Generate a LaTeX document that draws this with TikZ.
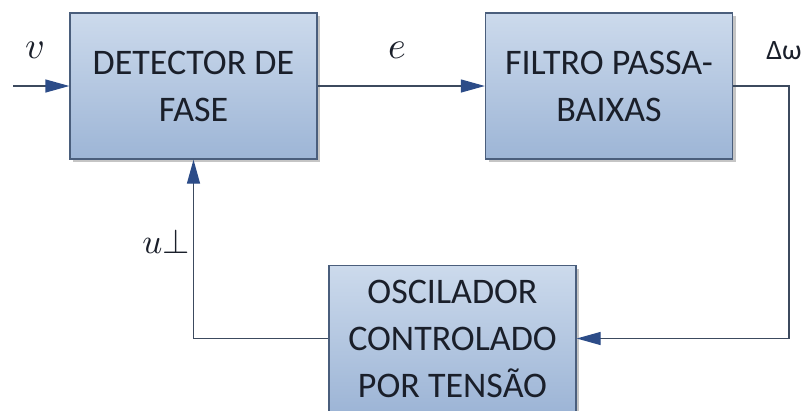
\documentclass[tikz,border=0pt]{standalone}
\usepackage{fontspec}
\setmainfont{Carlito}
\usetikzlibrary{arrows.meta,shadows}
\definecolor{boxtop}{HTML}{CCDAEC}
\definecolor{boxbot}{HTML}{9DB5D6}
\definecolor{boxline}{HTML}{4A5E7C}
\definecolor{wirec}{HTML}{3C4A5E}
\definecolor{tipc}{HTML}{2C4C88}
\definecolor{textc}{HTML}{1A1F2A}
\begin{document}
\begin{tikzpicture}[x=1pt,y=-1pt,
  blk/.style={draw=boxline, line width=1.3pt, top color=boxtop, bottom color=boxbot,
    minimum width=247pt, minimum height=146pt, inner sep=0pt, align=center,
    font=\fontsize{36}{47}\selectfont, text=textc,
    drop shadow={shadow xshift=3pt, shadow yshift=-3pt, fill=black!45, opacity=0.5}},
  wire/.style={draw=wirec, line width=1.3pt},
  arr/.style={wire, -{Triangle[length=24pt,width=13pt,fill=tipc,color=tipc]}},
  lbl/.style={inner sep=0pt, text=textc}]
\useasboundingbox (0,0) rectangle (805,410);
\node[blk] (det) at (193.5,86) {DETECTOR DE\\FASE};
\node[blk] (fil) at (609,86) {FILTRO PASSA-\\BAIXAS};
\node[blk] (vco) at (452.5,338.5) {OSCILADOR\\CONTROLADO\\POR TENSÃO};
\coordinate (vin) at (13,86);
\coordinate (cr) at (789,0);
\draw[arr] (vin) -- (det.west);
\draw[arr] (det.east) -- (fil.west);
\draw[arr] (fil.east) -- (fil.east -| cr) |- (vco.east);
\draw[arr] (vco.west) -| (det.south);
\node[lbl] (v) at (35,50) {\scalebox{3.8}{$v$}};
\node[lbl] (e) at (397,50) {\scalebox{3.8}{$e$}};
\node[lbl] (dw) at (784,51) {\scalebox{2.8}{Δω}};
\node[lbl] (u) at (166,241) {\scalebox{3.5}{$u\mathord{\perp}$}};
\end{tikzpicture}
\end{document}
